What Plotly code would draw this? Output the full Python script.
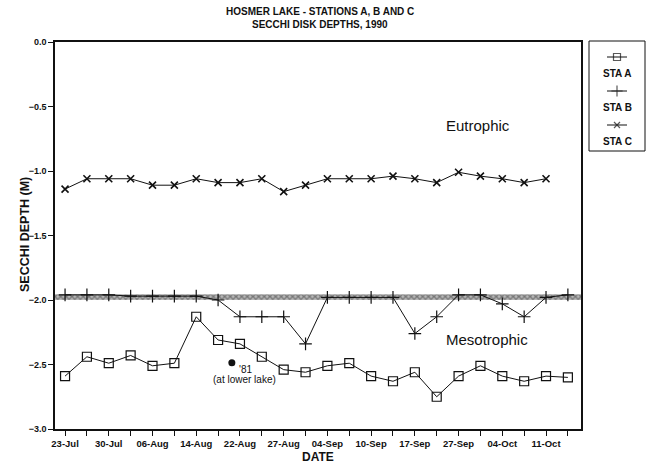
import plotly.graph_objects as go

# ---------------- data ----------------
tick_labels = ["23-Jul", "30-Jul", "06-Aug", "14-Aug", "22-Aug", "27-Aug",
               "04-Sep", "10-Sep", "17-Sep", "27-Sep", "04-Oct", "11-Oct"]
tick_idx = [0, 2, 4, 6, 8, 10, 12, 14, 16, 18, 20, 22]
minor_idx = [1, 3, 5, 7, 9, 11, 13, 15, 17, 19, 21, 23]

sta_a = [-2.59, -2.44, -2.49, -2.43, -2.51, -2.49, -2.13, -2.31, -2.34, -2.44,
         -2.54, -2.56, -2.51, -2.49, -2.59, -2.63, -2.56, -2.75, -2.59, -2.51,
         -2.59, -2.63, -2.59, -2.60]
sta_b = [-1.96, -1.96, -1.96, -1.97, -1.97, -1.97, -1.97, -2.00, -2.13, -2.13,
         -2.13, -2.34, -1.98, -1.98, -1.98, -1.98, -2.26, -2.13, -1.96, -1.96,
         -2.03, -2.13, -1.98, -1.96]
sta_c = [-1.14, -1.06, -1.06, -1.06, -1.11, -1.11, -1.06, -1.09, -1.09, -1.06,
         -1.16, -1.11, -1.06, -1.06, -1.06, -1.04, -1.06, -1.09, -1.01, -1.04,
         -1.06, -1.09, -1.06]
boundary_top = -1.955
boundary_bottom = -2.0
lower_lake_81_x = 7.63
lower_lake_81_y = -2.486

x_a = list(range(len(sta_a)))
x_b = list(range(len(sta_b)))
x_c = list(range(len(sta_c)))

X_RANGE = [-0.46, 23.6]

FONT = "Liberation Sans, Arial, Helvetica, sans-serif"
BLACK = "#111111"

fig = go.Figure()

# hatched trophic boundary band
fig.add_trace(go.Scatter(
    x=[X_RANGE[0], X_RANGE[1], X_RANGE[1], X_RANGE[0], X_RANGE[0]],
    y=[boundary_top, boundary_top, boundary_bottom, boundary_bottom, boundary_top],
    mode="lines", fill="toself", line=dict(width=0, color="#666"),
    fillcolor="rgba(255,255,255,0)",
    fillpattern=dict(shape="x", size=4, solidity=0.55, fgcolor="#333", bgcolor="#b8b8b8"),
    hoverinfo="skip", showlegend=False))

fig.add_trace(go.Scatter(
    x=x_c, y=sta_c, mode="lines+markers", name="STA C",
    line=dict(color=BLACK, width=1),
    marker=dict(symbol="x-thin-open", size=7, color=BLACK, line=dict(width=1.6, color=BLACK)),
    showlegend=False))
fig.add_trace(go.Scatter(
    x=x_b, y=sta_b, mode="lines+markers", name="STA B",
    line=dict(color=BLACK, width=1),
    marker=dict(symbol="cross-thin-open", size=9, color=BLACK, line=dict(width=1.2, color=BLACK)),
    showlegend=False))
fig.add_trace(go.Scatter(
    x=x_a, y=sta_a, mode="lines+markers", name="STA A",
    line=dict(color=BLACK, width=1),
    marker=dict(symbol="square-open", size=9, color=BLACK, line=dict(width=1.2, color=BLACK)),
    showlegend=False))
fig.add_trace(go.Scatter(
    x=[lower_lake_81_x], y=[lower_lake_81_y], mode="markers",
    marker=dict(symbol="circle", size=7, color=BLACK), showlegend=False))

# ---------------- custom stacked legend (own small axes) ----------------
legend_rows = [("STA A", "square-open", 7, 57), ("STA B", "cross-thin-open", 8, 91),
               ("STA C", "x-thin-open", 6, 125)]
for name, sym, sz, yy in legend_rows:
    fig.add_trace(go.Scatter(
        x=[607, 617, 627], y=[yy, yy, yy], mode="lines+markers", xaxis="x2", yaxis="y2",
        line=dict(color=BLACK, width=1),
        marker=dict(symbol=sym, size=[0, sz, 0], color=BLACK, line=dict(width=1.2, color=BLACK)),
        showlegend=False, hoverinfo="skip"))
    fig.add_annotation(x=617, y=yy + 16, xref="x2", yref="y2", text="<b>%s</b>" % name,
                       showarrow=False, xanchor="center", yanchor="middle",
                       font=dict(family=FONT, size=10, color=BLACK))

L, R, T, B = 55, 1, 40, 41
W, H = 647, 470
pw = W - L - R
ph = H - T - B
main_right = (581 - L) / pw
main_top = (429 - 42) / ph
leg_x0 = (589 - L) / pw
leg_x1 = (645 - L) / pw
leg_top = (429 - 41) / ph
leg_bot = (429 - 151) / ph


def px_x(px):
    return (px - L) / pw


def px_y(py):
    return (H - B - py) / ph


fig.add_shape(type="rect", xref="paper", yref="paper", x0=leg_x0, x1=leg_x1,
              y0=leg_bot, y1=leg_top, line=dict(color=BLACK, width=1))

# titles as annotations
fig.add_annotation(x=px_x(320), y=px_y(12), xref="paper", yref="paper",
                   text="<b>HOSMER LAKE - STATIONS A, B AND C</b>", showarrow=False,
                   xanchor="center", yanchor="middle",
                   font=dict(family=FONT, size=10, color=BLACK))
fig.add_annotation(x=px_x(320), y=px_y(25), xref="paper", yref="paper",
                   text="<b>SECCHI DISK DEPTHS, 1990</b>", showarrow=False,
                   xanchor="center", yanchor="middle",
                   font=dict(family=FONT, size=10, color=BLACK))

# annotations
fig.add_annotation(x=18.9, y=-0.65, text="Eutrophic", showarrow=False,
                   xanchor="center", yanchor="middle",
                   font=dict(family=FONT, size=15, color=BLACK))
fig.add_annotation(x=19.3, y=-2.31, text="Mesotrophic", showarrow=False,
                   xanchor="center", yanchor="middle",
                   font=dict(family=FONT, size=15, color=BLACK))
fig.add_annotation(x=lower_lake_81_x + 0.25, y=-2.535, text="'81", showarrow=False,
                   xanchor="left", yanchor="middle",
                   font=dict(family=FONT, size=10, color=BLACK))
fig.add_annotation(x=8.23, y=-2.62, text="(at lower lake)", showarrow=False,
                   xanchor="center", yanchor="middle",
                   font=dict(family=FONT, size=10, color=BLACK))
fig.add_annotation(x=px_x(318), y=px_y(457), xref="paper", yref="paper",
                   text="<b>DATE</b>", showarrow=False, xanchor="center", yanchor="middle",
                   font=dict(family=FONT, size=12, color=BLACK))
fig.add_annotation(x=px_x(25), y=px_y(235), xref="paper", yref="paper",
                   text="<b>SECCHI DEPTH (M)</b>", showarrow=False, textangle=-90,
                   xanchor="center", yanchor="middle",
                   font=dict(family=FONT, size=12.5, color=BLACK))

fig.update_layout(
    width=W, height=H,
    margin=dict(l=L, r=R, t=T, b=B),
    paper_bgcolor="white", plot_bgcolor="white",
    xaxis=dict(domain=[0, main_right], range=X_RANGE, showgrid=False, zeroline=False,
               showline=True, linecolor=BLACK, linewidth=1.5, mirror=True,
               tickvals=tick_idx, ticktext=tick_labels, ticks="outside", ticklen=5,
               tickcolor=BLACK, tickwidth=1,
               tickfont=dict(family=FONT, size=9.5, color=BLACK, weight="bold"),
               minor=dict(tickvals=minor_idx, ticks="outside", ticklen=5, tickcolor=BLACK,
                          tickwidth=1, showgrid=False)),
    yaxis=dict(domain=[0, main_top], range=[-3, 0], showgrid=False, zeroline=False,
               showline=True, linecolor=BLACK, linewidth=1.5, mirror=True,
               tickvals=[0, -0.5, -1, -1.5, -2, -2.5, -3], tickformat=".1f",
               ticks="outside", ticklen=5, tickcolor=BLACK, tickwidth=1,
               tickfont=dict(family=FONT, size=9, color=BLACK, weight="bold")),
    xaxis2=dict(domain=[leg_x0, leg_x1], range=[589, 645], visible=False, fixedrange=True,
                anchor="y2"),
    yaxis2=dict(domain=[leg_bot, leg_top], range=[151, 41], visible=False, fixedrange=True,
                anchor="x2"),
    showlegend=False,
)

fig.write_html("out.html")
